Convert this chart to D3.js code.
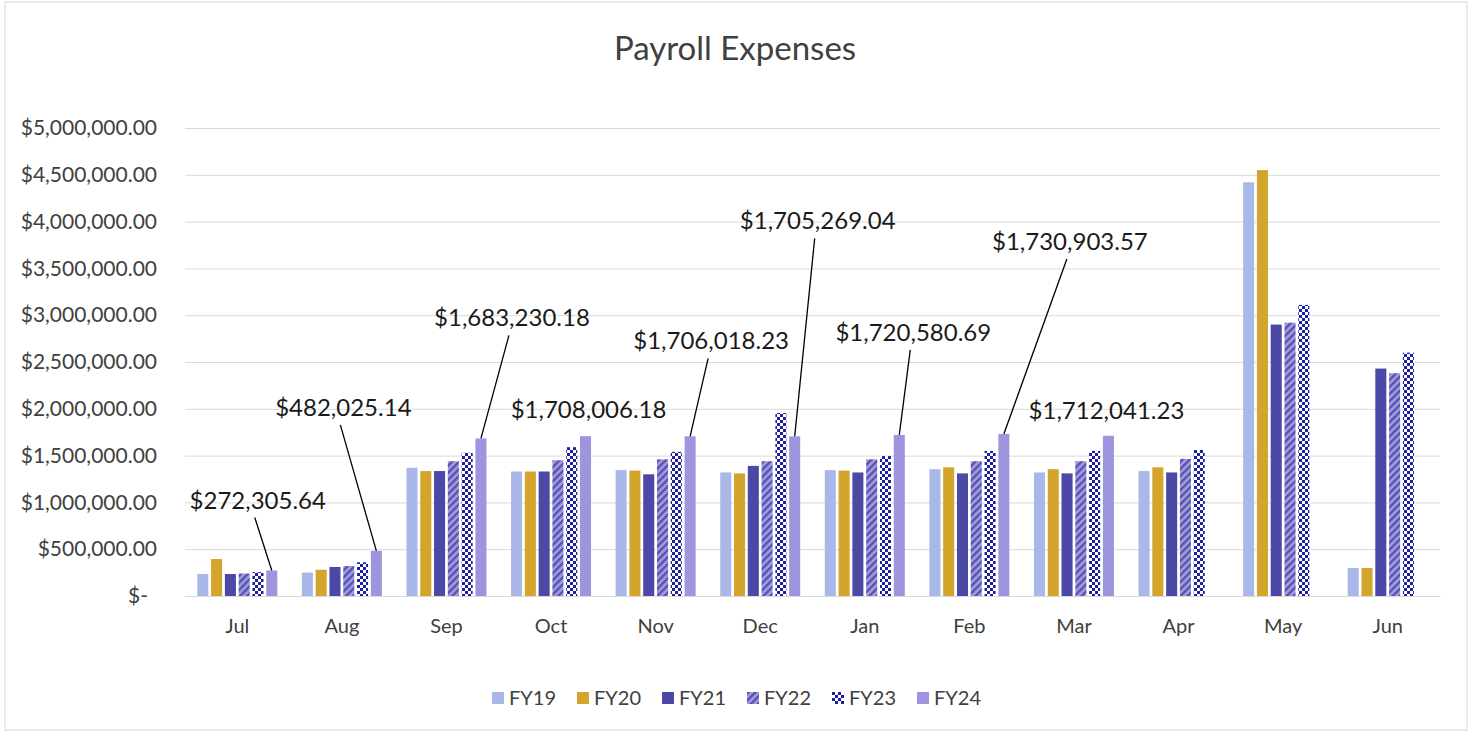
<!DOCTYPE html>
<html>
<head>
<meta charset="utf-8">
<script src="https://cdn.jsdelivr.net/npm/d3@7"></script>
<style>
  body { margin: 0; background: #fff; }
  svg { font-family: Lato, "Open Sans", sans-serif; }
</style>
</head>
<body>
<svg width="1473" height="734"></svg>
<script>
var months = ['Jul','Aug','Sep','Oct','Nov','Dec','Jan','Feb','Mar','Apr','May','Jun'];
var seriesNames = ['FY19','FY20','FY21','FY22','FY23','FY24'];

// values (FY24 from the data labels)
var fy19 = [235000, 250000, 1370000, 1330000, 1345000, 1320000, 1345000, 1355000, 1320000, 1335000, 4420000, 300000];
var fy20 = [395000, 280000, 1335000, 1330000, 1340000, 1310000, 1340000, 1375000, 1355000, 1375000, 4550000, 300000];
var fy21 = [235000, 310000, 1335000, 1330000, 1300000, 1390000, 1320000, 1310000, 1310000, 1320000, 2900000, 2430000];
var fy22 = [240000, 320000, 1440000, 1450000, 1460000, 1440000, 1460000, 1440000, 1440000, 1465000, 2920000, 2380000];
var fy23 = [255000, 360000, 1530000, 1590000, 1540000, 1955000, 1495000, 1550000, 1550000, 1560000, 3110000, 2600000];
var fy24 = [272305.64, 482025.14, 1683230.18, 1708006.18, 1706018.23, 1705269.04, 1720580.69, 1730903.57, 1712041.23, null, null, null];

var yTicks = [0, 500000, 1000000, 1500000, 2000000, 2500000, 3000000, 3500000, 4000000, 4500000, 5000000];

// where each FY24 data label sits relative to the top of its bar
var labelDx = [-14, -33, 31, 3, 21, 23, 14, 66, -2];
var labelDy = [-62, -135, -112, -18, -87, -207, -94, -184, -17];
var labelLine = [true, true, true, false, true, true, true, true, false];

var allSeries = [fy19, fy20, fy21, fy22, fy23, fy24];
var fills = ['#a9b8e8', '#d4a52c', '#4c48a6', 'url(#stripes)', 'url(#checks)', '#9d96de'];

var svg = d3.select('svg');

var defs = svg.append('defs');
var stripes = defs.append('pattern')
    .attr('id','stripes')
    .attr('patternUnits','userSpaceOnUse')
    .attr('width',5)
    .attr('height',5)
    .attr('patternTransform','rotate(45)');
stripes.append('rect').attr('width',5).attr('height',5).attr('fill','#a39ee0');
stripes.append('rect').attr('width',2.4).attr('height',5).attr('fill','#5650b0');

var checks = defs.append('pattern')
    .attr('id','checks')
    .attr('patternUnits','userSpaceOnUse')
    .attr('width',6)
    .attr('height',6);
checks.append('rect').attr('width',6).attr('height',6).attr('fill','#ffffff');
checks.append('rect').attr('width',3).attr('height',3).attr('fill','#1d1f9e');
checks.append('rect').attr('x',3).attr('y',3).attr('width',3).attr('height',3).attr('fill','#1d1f9e');

// chart frame
svg.append('rect')
    .attr('x',5).attr('y',2)
    .attr('width',1462).attr('height',728)
    .attr('fill','none')
    .attr('stroke','#d9d9d9');

var scaleX = d3.scaleBand().domain(months).range([185, 1440]).paddingInner(0.235).paddingOuter(0.1175);
var scaleS = d3.scaleBand().domain(seriesNames).range([0, scaleX.bandwidth()]).paddingInner(0.2);
var scaleY = d3.scaleLinear().domain([0, 5000000]).range([596, 128]);

var money = d3.format('$,.2f');

// gridlines + y labels
var yAxis = svg.append('g')
    .attr('transform','translate(185,0)')
    .call(d3.axisLeft(scaleY)
        .tickValues(yTicks)
        .tickSize(-1255)
        .tickPadding(28)
        .tickFormat(function (d) { return d === 0 ? '$-' : money(d); }));
yAxis.select('.domain').remove();
yAxis.selectAll('line').attr('stroke','#d9d9d9');
yAxis.selectAll('text')
    .attr('font-size',21)
    .attr('fill','#404040')
    .attr('font-family','Lato, sans-serif');
yAxis.selectAll('.tick')
    .filter(function (d) { return d === 0; })
    .select('text').attr('dx', -9);

// bars
allSeries.forEach(function (vals, s) {
    svg.append('g')
        .selectAll('rect')
        .data(vals.map(function (v, i) { return { m: months[i], v: v }; })
            .filter(function (d) { return d.v != null; }))
        .enter()
        .append('rect')
        .attr('x', function (d) { return scaleX(d.m) + scaleS(seriesNames[s]); })
        .attr('y', function (d) { return scaleY(d.v); })
        .attr('width', scaleS.bandwidth())
        .attr('height', function (d) { return scaleY(0) - scaleY(d.v); })
        .attr('fill', fills[s]);
});

// x axis labels
var xAxis = svg.append('g')
    .attr('transform','translate(0,596)')
    .call(d3.axisBottom(scaleX).tickSize(0).tickPadding(23));
xAxis.select('.domain').attr('stroke','#d9d9d9');
xAxis.selectAll('text')
    .attr('font-size',20)
    .attr('fill','#404040')
    .attr('font-family','Lato, sans-serif');

// FY24 data labels with leader lines
fy24.forEach(function (v, i) {
    if (v == null || labelDx[i] === undefined) return;
    var bx = scaleX(months[i]) + scaleS('FY24') + scaleS.bandwidth() / 2;
    var by = scaleY(v);
    var tx = bx + labelDx[i];
    var ty = by + labelDy[i];
    if (labelLine[i]) {
        svg.append('line')
            .attr('x1', tx - 3).attr('y1', ty + 9)
            .attr('x2', bx).attr('y2', by)
            .attr('stroke','#000')
            .attr('stroke-width',1.3);
    }
    svg.append('text')
        .attr('x', tx)
        .attr('y', ty)
        .attr('text-anchor','middle')
        .attr('font-size',24)
        .attr('fill','#1a1a1a')
        .text(money(v));
});

// title
svg.append('text')
    .attr('x',735)
    .attr('y',60)
    .attr('text-anchor','middle')
    .attr('font-size',33)
    .attr('fill','#404040')
    .text('Payroll Expenses');

// legend
var legend = svg.append('g')
    .selectAll('g')
    .data(seriesNames)
    .enter()
    .append('g')
    .attr('transform', function (d, i) { return 'translate(' + (492 + i * 85) + ',692)'; });
legend.append('rect')
    .attr('width',12).attr('height',12)
    .attr('fill', function (d, i) { return fills[i]; });
legend.append('text')
    .attr('x',17)
    .attr('y',12.5)
    .attr('font-size',20)
    .attr('fill','#404040')
    .text(function (d) { return d; });
</script>
</body>
</html>
